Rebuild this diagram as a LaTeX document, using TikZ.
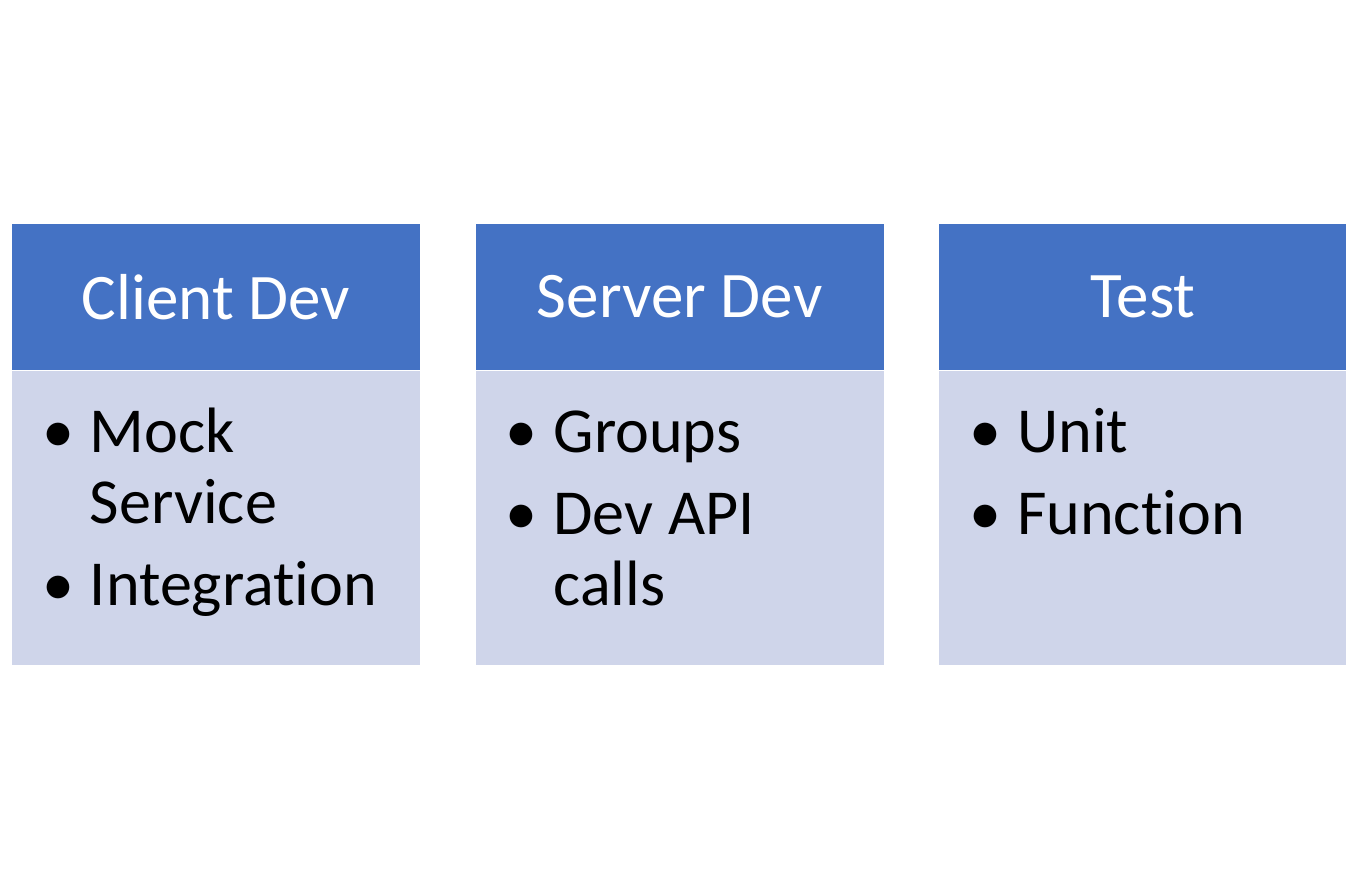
\documentclass[tikz,border=0pt]{standalone}
\usepackage{fontspec}
\setmainfont{Carlito}[Ligatures=NoCommon]
\usetikzlibrary{positioning, calc}

\definecolor{headblue}{HTML}{4472C4}
\definecolor{bodyblue}{HTML}{CFD5EA}

\newcommand{\dotlist}[1]{%
  \fontsize{36.5}{40.4}\selectfont
  \begin{tabular}{@{}l@{\hspace{0.32cm}}l@{}}#1\end{tabular}}

\begin{document}
\begin{tikzpicture}[
        x=0.02cm, y=-0.02cm,
        node distance=0pt and 1.1cm,
        header/.style={rectangle, fill=headblue, text=white, inner sep=0pt,
            minimum width=8.16cm, minimum height=2.92cm,
            font=\fontsize{37}{44}\selectfont},
        panel/.style={rectangle, fill=bodyblue, inner sep=0pt,
            minimum width=8.16cm, minimum height=5.88cm},
        items/.style={anchor=north west, inner sep=0pt, text=black}
    ]
    \useasboundingbox (0,0) rectangle (1346,889);

    \node[header] (clienthead) at (216,297) {Client Dev};
    \node[panel] (clientbody) [below=of clienthead] {};

    \node[header] (serverhead) [right=of clienthead] {Server Dev};
    \node[panel] (serverbody) [below=of serverhead] {};

    \node[header] (testhead) [right=of serverhead] {Test};
    \node[panel] (testbody) [below=of testhead] {};

    \node[items] (clientlist) at ($(clientbody.north west)+(30,32)$)
        {\dotlist{\textbullet & Mock\\ & Service\\[0.22cm] \textbullet & Integration}};
    \node[items] (serverlist) at ($(serverbody.north west)+(30,32)$)
        {\dotlist{\textbullet & Groups\\[0.22cm] \textbullet & Dev API\\ & calls}};
    \node[items] (testlist) at ($(testbody.north west)+(30,32)$)
        {\dotlist{\textbullet & Unit\\[0.22cm] \textbullet & Function}};
\end{tikzpicture}
\end{document}
